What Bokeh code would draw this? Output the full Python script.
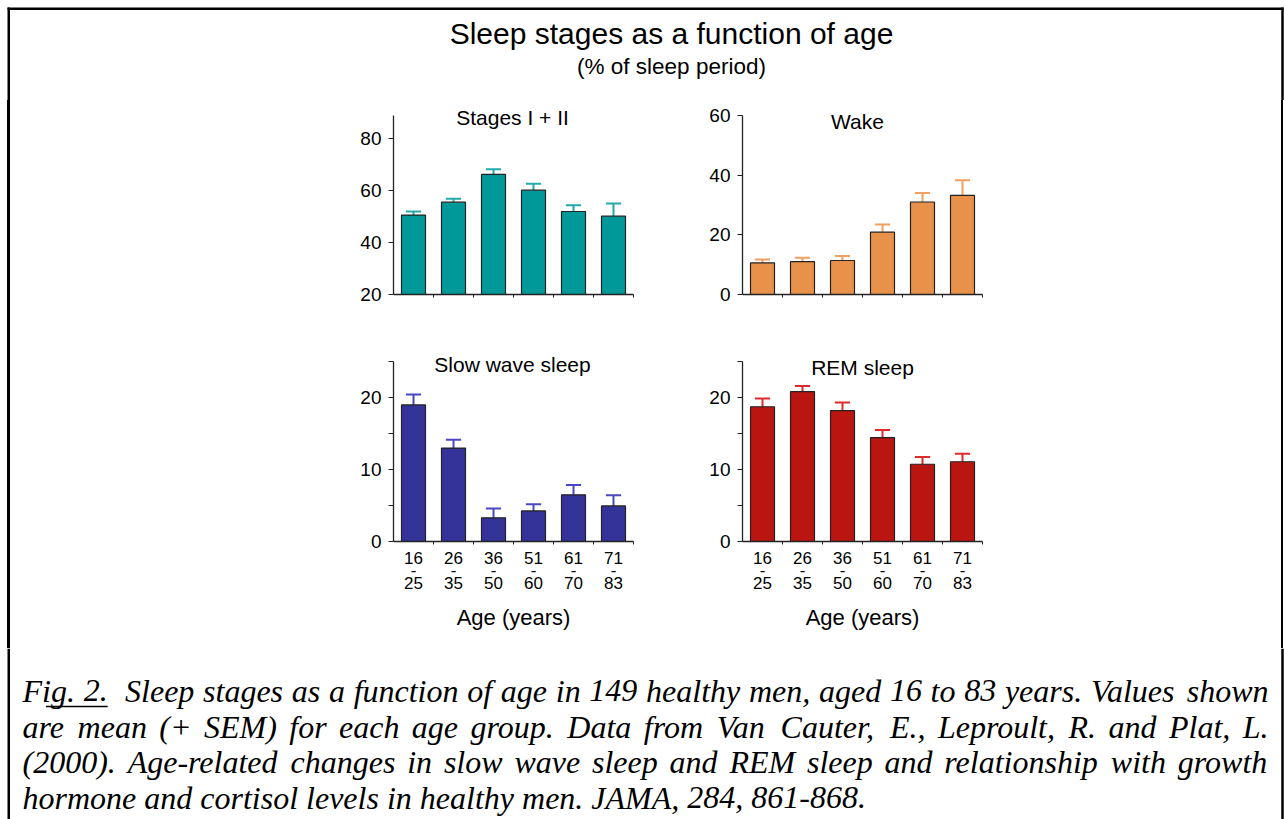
from bokeh.plotting import figure
from bokeh.models import Range1d, FixedTicker, Label, Div
from bokeh.layouts import column, row
from bokeh.embed import file_html
from bokeh.resources import INLINE
from bokeh.core.properties import value

# ---------------- data ----------------
age_low = ["16", "26", "36", "51", "61", "71"]
age_high = ["25", "35", "50", "60", "70", "83"]

stages_mean = [50.6, 55.6, 66.3, 60.2, 52.0, 50.2]
stages_sem = [1.4, 1.3, 2.0, 2.5, 2.4, 4.9]
wake_mean = [10.6, 11.0, 11.4, 20.9, 31.0, 33.2]
wake_sem = [1.1, 1.3, 1.5, 2.6, 3.0, 5.1]
sws_mean = [19.0, 13.0, 3.3, 4.25, 6.5, 4.95]
sws_sem = [1.45, 1.15, 1.3, 0.95, 1.35, 1.5]
rem_mean = [18.75, 20.85, 18.2, 14.45, 10.75, 11.1]
rem_sem = [1.15, 0.8, 1.15, 1.05, 1.0, 1.1]

main_title = "Sleep stages as a function of age"
sub_title = "(% of sleep period)"
caption_lines = [
    "Fig. 2.  Sleep stages as a function of age in 149 healthy men, aged 16 to 83 years. Values shown",
    "are mean (+ SEM) for each age group. Data from Van Cauter, E., Leproult, R. and Plat, L.",
    "(2000). Age-related changes in slow wave sleep and REM sleep and relationship with growth",
    "hormone and cortisol levels in healthy men. JAMA, 284, 861-868.",
]

SANS = "Liberation Sans"
SERIF = "Liberation Serif"

# advance widths (em/1000) of Times/Liberation Serif Italic, used to justify the caption
_TI = {" ": 250, ",": 250, ".": 250, "-": 333, "(": 333, ")": 333, "+": 675, ":": 333,
       "A": 611, "C": 667, "D": 722, "E": 611, "F": 611, "J": 444, "L": 556, "M": 833,
       "P": 611, "R": 611, "S": 500, "V": 611, "a": 500, "b": 500, "c": 444, "d": 500,
       "e": 444, "f": 278, "g": 500, "h": 500, "i": 278, "j": 278, "k": 444, "l": 278,
       "m": 722, "n": 500, "o": 500, "p": 500, "q": 500, "r": 389, "s": 389, "t": 278,
       "u": 500, "v": 444, "w": 667, "x": 444, "y": 444, "z": 389}


def tw(s, size):
    return sum(_TI.get(c, 500) for c in s) * size / 1000.0


def blank(width, height):
    p = figure(width=width, height=height, x_range=Range1d(0, width), y_range=Range1d(height, 0),
               x_axis_type=None, y_axis_type=None, output_backend="svg", toolbar_location=None,
               min_border=0)
    p.grid.visible = False
    p.outline_line_color = None
    return p


def panel(title, mean, sem, y0, y1, major, minor, fill, err, width, height,
          mbl, mbr, mbt, mbb, extra_px, axis_px, show_x, tdx, tdy):
    y_end = y1 + (y1 - y0) * extra_px / axis_px   # room above the axis for the panel title
    p = figure(width=width, height=height, x_range=Range1d(0, 6), y_range=Range1d(y0, y_end),
               output_backend="svg", toolbar_location=None,
               min_border_left=mbl, min_border_right=mbr, min_border_top=mbt, min_border_bottom=mbb)
    p.outline_line_color = None
    p.grid.visible = False
    xs = [i + 0.5 for i in range(len(mean))]
    tops = [m + s for m, s in zip(mean, sem)]
    p.segment(x0=xs, y0=mean, x1=xs, y1=tops, line_color=err, line_width=2)
    p.segment(x0=[x - 0.19 for x in xs], y0=tops, x1=[x + 0.19 for x in xs], y1=tops,
              line_color=err, line_width=2)
    p.vbar(x=xs, width=0.6, bottom=y0, top=mean, fill_color=fill, line_color="#222222",
           line_width=1.2)

    xa = p.xaxis[0]
    xa.major_tick_out = 0
    xa.major_tick_in = 0
    xa.minor_tick_out = 3
    xa.minor_tick_in = 0
    xa.axis_line_color = "#222222"
    xa.axis_line_width = 1.3
    xa.minor_tick_line_color = "#222222"
    if show_x:
        xa.ticker = FixedTicker(ticks=xs, minor_ticks=[1, 2, 3, 4, 5, 6])
        xa.major_label_overrides = {x: f"{lo}\n-\n{hi}" for x, lo, hi in zip(xs, age_low, age_high)}
        xa.major_label_text_font = SANS
        xa.major_label_text_font_size = "17px"
        xa.major_label_text_color = "black"
        xa.major_label_text_line_height = 0.67
        xa.major_label_standoff = 4
        xa.axis_label = "Age (years)"
        xa.axis_label_text_font = SANS
        xa.axis_label_text_font_size = "22px"
        xa.axis_label_text_font_style = "normal"
        xa.axis_label_text_color = "black"
        xa.axis_label_standoff = 9
    else:
        xa.ticker = FixedTicker(ticks=[], minor_ticks=[1, 2, 3, 4, 5, 6])
        xa.major_label_standoff = 0

    ya = p.yaxis[0]
    ya.bounds = (y0, y1)
    ya.ticker = FixedTicker(ticks=major, minor_ticks=minor)
    ya.major_tick_out = 5
    ya.major_tick_in = 0
    ya.minor_tick_out = 5
    ya.minor_tick_in = 0
    ya.major_tick_line_color = "#222222"
    ya.minor_tick_line_color = "#222222"
    ya.axis_line_color = "#222222"
    ya.axis_line_width = 1.3
    ya.major_label_text_font = SANS
    ya.major_label_text_font_size = "19px"
    ya.major_label_text_color = "black"
    ya.major_label_standoff = 7

    p.add_layout(Label(x=3, y=y1, x_offset=tdx, y_offset=-tdy, text=title, text_align="center",
                       text_baseline="middle", text_font=SANS, text_font_size="21px",
                       text_color="black"))
    return p


W, H = 1284, 819
BW = 2.5
TOP_H, R1_H, R2_H = 100, 230, 318
SIDE = 12

# ---- title strip ----
top = blank(W, TOP_H)
top.segment(x0=[7, 8.25, 1282], y0=[8.3, 7, 7], x1=[1283, 8.25, 1282], y1=[8.3, TOP_H, TOP_H],
            line_color="black", line_width=BW)
top.text(x=[671], y=[33], text=[main_title], text_font=value(SANS), text_font_size="30px",
         text_align="center", text_baseline="middle", text_color="black")
top.text(x=[671], y=[66], text=[sub_title], text_font=value(SANS), text_font_size="22.5px",
         text_align="center", text_baseline="middle", text_color="black")

# ---- panels ----
p_stage = panel("Stages I + II", stages_mean, stages_sem, 20, 89, [20, 40, 60, 80], [],
                "#009999", "#22AAAA", 660 - SIDE, R1_H, 393 - SIDE, 27, 3, 36, 12, 179,
                False, -1, 1.5)
p_wake = panel("Wake", wake_mean, wake_sem, 0, 60, [0, 20, 40, 60], [],
               "#E8914A", "#F0A060", 612, R1_H, 82, 1272 - 982, 3, 36, 12, 179,
               False, -5, 5.5)
p_sws = panel("Slow wave sleep", sws_mean, sws_sem, 0, 25, [0, 10, 20], [5, 15, 25],
              "#333399", "#4848C0", 660 - SIDE, R2_H, 393 - SIDE, 27, 21, 107, 10.3, 179.2,
              True, -1, 2.3)
p_rem = panel("REM sleep", rem_mean, rem_sem, 0, 25, [0, 10, 20], [5, 15, 25],
              "#BB1511", "#DD2A2A", 612, R2_H, 82, 1272 - 982, 21, 107, 10.3, 179.2,
              True, 0, 5.3)

# ---- side strips carrying the frame's vertical lines (empty HTML boxes) ----
MID_H = R1_H + R2_H
lside = Div(width=SIDE, height=MID_H, margin=0,
            text=f'<div style="margin:0 0 0 7px;padding:0;width:2.5px;height:{MID_H}px;background:#000"></div>')
rside = Div(width=SIDE, height=MID_H, margin=0,
            text=f'<div style="margin:0 0 0 9px;padding:0;width:2px;height:{MID_H}px;background:#000"></div>')

# ---- caption (justified) ----
CH = H - TOP_H - MID_H
cap = blank(W, CH)
cap.segment(x0=[8.25, 1282], y0=[0, 0], x1=[8.25, 1282], y1=[CH, CH], line_color="black", line_width=BW)
FS = 32
X0, X1 = 22, 1268
mid_y = [42, 78, 113, 149]
wx, wy, wt = [], [], []
for k, line in enumerate(caption_lines):
    words = line.split(" ")
    widths = [tw(w, FS) for w in words]
    if k < len(caption_lines) - 1:
        gap = (X1 - X0 - sum(widths)) / (len(words) - 1)
    else:
        gap = tw(" ", FS)
    x = X0
    for w, wd in zip(words, widths):
        if w:
            wx.append(x)
            wy.append(mid_y[k])
            wt.append(w)
        x += wd + gap
cap.text(x=wx, y=wy, text=wt, text_font=value(SERIF), text_font_style="italic",
         text_font_size=f"{FS}px", text_align="left", text_baseline="middle", text_color="black")
# underline of "g. 2."
u0 = X0 + tw("Fi", FS) - 5
u1 = wx[1] + tw(wt[1], FS)
cap.segment(x0=[u0], y0=[mid_y[0] + 16], x1=[u1], y1=[mid_y[0] + 16], line_color="black", line_width=1.5)

middle = row(lside, column(row(p_stage, p_wake), row(p_sws, p_rem)), rside)
layout = column(top, middle, cap)

open("out.html", "w").write(file_html(layout, INLINE))
